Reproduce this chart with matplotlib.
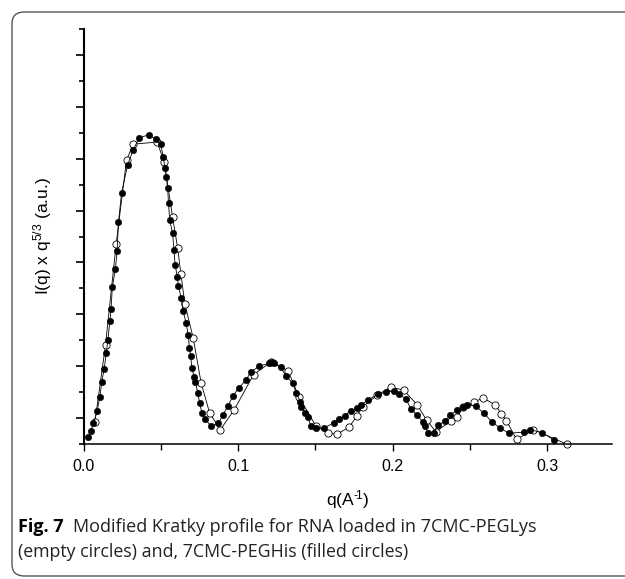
import numpy as np
import matplotlib; matplotlib.use('Agg')
import matplotlib.pyplot as plt
from matplotlib.patches import FancyBboxPatch

# Modified Kratky profile (q in 1/A, intensity a.u.)
# 7CMC-PEGHis -> filled circles
Q_HIS = [0.0027, 0.0046, 0.0063, 0.0087, 0.0104, 0.0117, 0.0132, 0.0146, 0.0156, 0.0169,
         0.0177, 0.0185, 0.0205, 0.0216, 0.0225, 0.0245, 0.0284, 0.0320, 0.0359, 0.0420,
         0.0467, 0.0499, 0.0514, 0.0527, 0.0535, 0.0543, 0.0549, 0.0556, 0.0575, 0.0584,
         0.0592, 0.0606, 0.0613, 0.0631, 0.0644, 0.0663, 0.0677, 0.0684, 0.0692, 0.0700,
         0.0715, 0.0723, 0.0739, 0.0750, 0.0765, 0.0784, 0.0826, 0.0872, 0.0901, 0.0933,
         0.0966, 0.1003, 0.1050, 0.1082, 0.1136, 0.1199, 0.1220, 0.1233, 0.1277, 0.1307,
         0.1352, 0.1376, 0.1403, 0.1409, 0.1432, 0.1449, 0.1471, 0.1501, 0.1557, 0.1618,
         0.1654, 0.1689, 0.1728, 0.1771, 0.1797, 0.1840, 0.1905, 0.1959, 0.2010, 0.2041,
         0.2088, 0.2119, 0.2159, 0.2194, 0.2209, 0.2229, 0.2266, 0.2292, 0.2340, 0.2373,
         0.2415, 0.2453, 0.2483, 0.2540, 0.2593, 0.2646, 0.2697, 0.2753, 0.2852, 0.2889,
         0.2968, 0.3045]
I_HIS = [0.13, 0.25, 0.40, 0.64, 0.91, 1.20, 1.45, 1.75, 2.00, 2.37,
         2.60, 3.03, 3.37, 3.72, 4.28, 4.84, 5.38, 5.67, 5.90, 5.96,
         5.88, 5.78, 5.53, 5.32, 5.15, 4.93, 4.65, 4.32, 4.07, 3.74,
         3.45, 3.22, 3.05, 2.81, 2.56, 2.33, 2.10, 1.85, 1.70, 1.47,
         1.29, 1.20, 0.98, 0.80, 0.60, 0.48, 0.35, 0.40, 0.56, 0.73,
         0.93, 1.08, 1.23, 1.39, 1.50, 1.56, 1.58, 1.57, 1.48, 1.32,
         1.18, 0.99, 0.81, 0.72, 0.59, 0.53, 0.35, 0.31, 0.31, 0.41,
         0.49, 0.55, 0.64, 0.69, 0.76, 0.85, 0.96, 1.00, 1.02, 0.97,
         0.86, 0.67, 0.56, 0.43, 0.35, 0.22, 0.21, 0.36, 0.44, 0.56,
         0.65, 0.72, 0.76, 0.73, 0.59, 0.42, 0.31, 0.21, 0.23, 0.28,
         0.22, 0.08]

# 7CMC-PEGLys -> empty circles
Q_LYS = [0.0072, 0.0141, 0.0210, 0.0277, 0.0320, 0.0475, 0.0521, 0.0575, 0.0608, 0.0629,
         0.0655, 0.0709, 0.0760, 0.0815, 0.0885, 0.0974, 0.1100, 0.1212, 0.1324, 0.1393,
         0.1503, 0.1583, 0.1641, 0.1719, 0.1771, 0.1806, 0.1900, 0.1987, 0.2071, 0.2159,
         0.2220, 0.2280, 0.2376, 0.2416, 0.2457, 0.2528, 0.2587, 0.2666, 0.2705, 0.2737,
         0.2803, 0.2911, 0.3127]
I_LYS = [0.42, 1.91, 3.86, 5.47, 5.78, 5.82, 5.44, 4.38, 3.78, 3.28,
         2.70, 2.04, 1.18, 0.60, 0.28, 0.66, 1.34, 1.58, 1.41, 0.91,
         0.35, 0.21, 0.19, 0.33, 0.55, 0.72, 0.94, 1.10, 1.04, 0.76,
         0.46, 0.24, 0.44, 0.52, 0.71, 0.81, 0.89, 0.75, 0.58, 0.45,
         0.09, 0.28, 0.00]

X_TICKS = [0.0, 0.1, 0.2, 0.3]
X_LABELS = ['0.0', '0.1', '0.2', '0.3']

plt.rcParams['font.family'] = ['Liberation Sans', 'DejaVu Sans']
plt.rcParams['mathtext.fontset'] = 'custom'
plt.rcParams['mathtext.rm'] = 'Liberation Sans'
plt.rcParams['mathtext.it'] = 'Liberation Sans'

fig = plt.figure(figsize=(6.25, 5.79), dpi=100)
ax = fig.add_axes([0.134, 0.233, 0.845, 0.717])

ax.plot(Q_LYS, I_LYS, '-o', color='k', lw=0.6, ms=5.2, mfc='white', mec='k', mew=0.6, zorder=2, clip_on=False)
ax.plot(Q_HIS, I_HIS, '-o', color='k', lw=0.6, ms=4.6, mfc='k', mec='k', mew=0.4, zorder=3, clip_on=False)

ax.set_xlim(0, 0.342)
ax.set_ylim(0, 8)
ax.set_xticks(X_TICKS)
ax.set_xticklabels(X_LABELS, fontsize=11.5)
ax.set_xticks(np.arange(0.05, 0.34, 0.1), minor=True)
ax.set_yticks(np.arange(0.5, 8, 1.0))
ax.set_yticks(np.arange(0, 8.01, 1.0), minor=True)
ax.set_yticklabels([])
ax.tick_params(axis='x', which='major', length=5, width=1.0, pad=6, direction='out')
ax.tick_params(axis='x', which='minor', length=4, width=1.0, direction='out')
ax.tick_params(axis='y', which='major', length=6, width=1.2, direction='out')
ax.tick_params(axis='y', which='minor', length=3.5, width=1.2, direction='out')
for s in ('top', 'right'):
    ax.spines[s].set_visible(False)
ax.spines['left'].set_linewidth(1.5)
ax.spines['bottom'].set_linewidth(1.1)

ax.set_xlabel('q(A$^{\u2010\\!1}$)', fontsize=12.5, labelpad=10)
ax.set_ylabel('I(q) x q$^{5/3}$ (a.u.)', fontsize=12.5, labelpad=12)

# caption below the plot
fig.text(0.029, 0.089, 'Fig. 7', fontsize=13, fontweight='bold', family='Open Sans', va='center')
fig.text(0.117, 0.089, 'Modified Kratky profile for RNA loaded in 7CMC-PEGLys',
         fontsize=13, family='Open Sans', va='center', color='#222222')
fig.text(0.029, 0.046, '(empty circles) and, 7CMC-PEGHis (filled circles)',
         fontsize=12.8, family='Open Sans', va='center', color='#222222')

# rounded frame, open on the right
frame = FancyBboxPatch((12 / 625, 3 / 579), 1.2, (576 - 12) / 579,
                       boxstyle='round,pad=0,rounding_size=0.02', transform=fig.transFigure,
                       fill=False, ec='#555555', lw=1.0, clip_on=False)
fig.patches.append(frame)

fig.savefig('out.png', dpi=100)
